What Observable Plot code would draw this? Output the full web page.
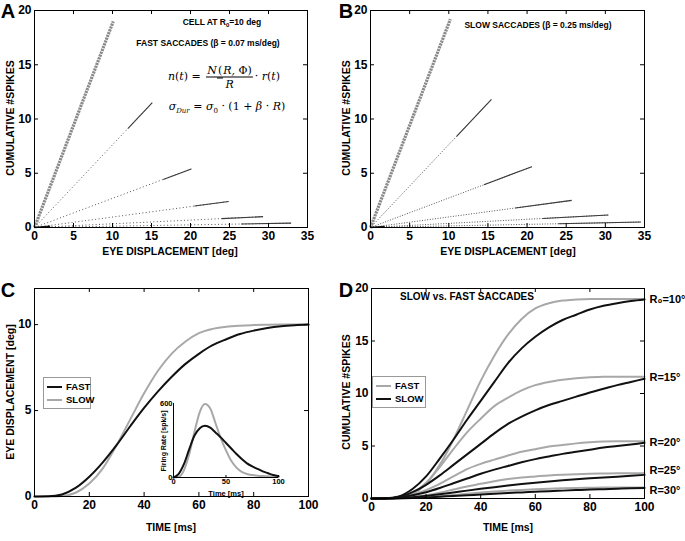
<!DOCTYPE html>
<html><head><meta charset="utf-8">
<script src="https://cdn.jsdelivr.net/npm/d3@7"></script>
<script src="https://cdn.jsdelivr.net/npm/@observablehq/plot@0.6"></script>
<style>
body{margin:0;background:#fff;}
#fig{position:relative;width:685px;height:541px;font-family:"Liberation Sans",Arial,sans-serif;font-weight:bold;color:#000;overflow:hidden;background:#fff}
#fig svg{position:absolute;overflow:visible}
.t{position:absolute;white-space:nowrap;line-height:1}
.ctr{transform:translate(-50%,-50%)}
.rot{transform:translate(-50%,-50%) rotate(-90deg)}
.letter{font-size:20px}
.axl{font-size:10.5px}
.note{font-size:8.5px}
.math{font-family:"DejaVu Serif","Liberation Serif",serif;font-weight:normal;font-style:italic;font-size:11px}
.frac{display:inline-flex;flex-direction:column;align-items:center;vertical-align:middle;margin:0 2px}
.frac span:first-child{border-bottom:1px solid #000;padding:0 1px 1px}
.frac span:last-child{padding-top:1px}
.up{font-style:normal}
.leg{position:absolute;border:1px solid #999;background:#fff;font-size:9.5px}
.leg div{position:absolute;white-space:nowrap;line-height:1}
.leg i{position:absolute;height:0;border-top:2px solid}
</style></head><body><div id="fig"></div>
<script>
// ---------- DATA ----------
// Panels A/B: cumulative spikes vs eye displacement (ray end points)
const rayLabels = ["R0=10", "R=15", "R=20", "R=25", "R=30", "R=35"];
const aEndX = [10.1, 15.1, 20.1, 24.9, 29.3, 32.9];
const aEndY = [19.0, 11.5, 5.4, 2.4, 1.0, 0.4];
const aSolidX = [0, 12.0, 16.5, 20.5, 24.0, 26.5];
const aStub = [2.0, 0.12];
const bEndX = [10.2, 15.45, 20.6, 25.7, 30.4, 34.55];
const bEndY = [19.2, 11.8, 5.6, 2.5, 1.15, 0.5];
const bSolidX = [0, 11.0, 14.5, 18.5, 22.0, 24.0];
const bStub = [1.8, 0.1];

// time base (ms)
const time = [0,5,10,15,20,25,30,35,40,45,50,55,60,65,70,75,80,85,90,95,100];

// Panel C: eye displacement [deg]
const cFast = [0,0.01,0.12,0.5,1.15,2.0,3.0,4.1,5.15,6.1,6.95,7.7,8.3,8.8,9.15,9.45,9.65,9.8,9.9,9.96,10];
const cSlow = [0,0,0.03,0.22,0.75,1.65,3.0,4.5,6.0,7.3,8.3,9.0,9.5,9.75,9.88,9.94,9.97,9.99,10,10,10];
// inset: firing rate [spk/s]
const rateFast = [0,30,110,230,340,400,420,405,365,325,280,235,190,150,115,90,70,50,35,20,10];
const rateSlow = [0,5,60,190,370,530,595,560,440,320,220,135,80,45,28,20,15,12,10,7,5];

// Panel D: cumulative #spikes vs time (FAST = gray, SLOW = black)
const dLabels = ["R\u2080=10\u00b0", "R=15\u00b0", "R=20\u00b0", "R=25\u00b0", "R=30\u00b0"];
const dLabelY = [19.0, 11.5, 5.3, 2.7, 0.8];
const dFast10 = [0,0,0.05,0.4,1.4,3.2,5.6,8.4,11.2,13.6,15.6,17.1,18.1,18.6,18.85,18.95,19.0,19.0,19.0,19.0,19.0];
const dSlow10 = [0,0.02,0.2,0.9,2.1,3.8,5.6,7.5,9.3,11.1,12.9,14.3,15.4,16.3,17.0,17.5,18.0,18.35,18.6,18.8,18.95];
const dFast15 = [0,0,0.1,0.5,1.5,3.0,4.7,6.3,7.6,8.8,9.6,10.3,10.8,11.1,11.3,11.45,11.55,11.6,11.6,11.6,11.6];
const dSlow15 = [0,0.02,0.15,0.6,1.3,2.2,3.2,4.2,5.2,6.2,7.1,7.8,8.4,8.9,9.3,9.7,10.1,10.45,10.8,11.1,11.4];
const dFast20 = [0,0,0.05,0.3,0.8,1.4,2.1,2.8,3.3,3.7,4.1,4.45,4.7,4.95,5.1,5.25,5.35,5.42,5.45,5.45,5.45];
const dSlow20 = [0,0.01,0.08,0.3,0.6,1.0,1.45,1.9,2.35,2.75,3.1,3.45,3.75,4.0,4.25,4.45,4.65,4.85,5.0,5.15,5.3];
const dFast25 = [0,0,0.03,0.12,0.3,0.55,0.85,1.15,1.4,1.65,1.85,2.0,2.1,2.2,2.27,2.32,2.36,2.38,2.4,2.4,2.4];
const dSlow25 = [0,0.01,0.04,0.12,0.25,0.4,0.57,0.75,0.92,1.08,1.23,1.37,1.5,1.62,1.73,1.83,1.92,2.0,2.08,2.17,2.25];
const dFast30 = [0,0,0.01,0.05,0.12,0.22,0.33,0.45,0.56,0.66,0.75,0.82,0.88,0.93,0.97,1.0,1.02,1.04,1.05,1.05,1.05];
const dSlow30 = [0,0,0.02,0.05,0.1,0.17,0.24,0.31,0.38,0.45,0.52,0.58,0.64,0.7,0.75,0.8,0.85,0.89,0.93,0.97,1.0];

const ticksA = [0,5,10,15,20,25,30,35];
const ticksSpk = [0,5,10,15,20];
const ticksT = [0,20,40,60,80,100];
const ticksDeg = [0,5,10];

// ---------- HELPERS ----------
const fig = document.getElementById("fig");
const FONT = "Liberation Sans, Arial, sans-serif";
function place(el, left, top){ el.style.left = left+"px"; el.style.top = top+"px"; fig.appendChild(el); return el; }
function text(str, x, y, cls, extra){ const d=document.createElement("div"); d.className="t "+cls; d.innerHTML=str; if(extra) Object.assign(d.style, extra); return place(d, x, y); }

function panel({left, top, w, h, m, xDom, yDom, xT, yT, marks, fs=12, tick=4}){
  const [mt, mr, mb, ml] = m;
  const fw = w-ml-mr, fh = h-mt-mb;
  const p = Plot.plot({
    width: w, height: h, marginTop: mt, marginRight: mr, marginBottom: mb, marginLeft: ml,
    x: {domain: xDom}, y: {domain: yDom},
    style: {fontFamily: FONT, fontSize: fs+"px", fontWeight: "bold", color: "#000", background: "transparent", overflow: "visible"},
    marks: [
      ...marks,
      Plot.frame({stroke: "#000", strokeWidth: 1}),
      Plot.ruleX(xT, {x: d=>d, insetTop: fh-tick, stroke: "#000"}),
      Plot.ruleX(xT, {x: d=>d, insetBottom: fh-tick, stroke: "#000"}),
      Plot.ruleY(yT, {y: d=>d, insetRight: fw-tick, stroke: "#000"}),
      Plot.ruleY(yT, {y: d=>d, insetLeft: fw-tick, stroke: "#000"}),
      Plot.axisX(xT, {tickSize: 0, tickPadding: 4, label: null}),
      Plot.axisY(yT, {tickSize: 0, tickPadding: 3, label: null})
    ]
  });
  return place(p, left, top);
}

function rays(endX, endY, solidX){
  return endX.map((x, i) => ({x1: 0, y1: 0, x2: x, y2: endY[i], sx: solidX[i], sy: endY[i]*solidX[i]/x, main: i === 0}));
}
function rayMarks(r, stub, dash){
  return [
    Plot.link(r.filter(d=>!d.main), {x1:"x1", y1:"y1", x2:"x2", y2:"y2", stroke:"#555", strokeWidth:1, strokeDasharray:dash}),
    Plot.link(r.filter(d=>!d.main), {x1:"sx", y1:"sy", x2:"x2", y2:"y2", stroke:"#3a3a3a", strokeWidth:1.1}),
    Plot.link(r.filter(d=>d.main), {x1:"x1", y1:"y1", x2:"x2", y2:"y2", stroke:"#8a8a8a", strokeWidth:3.2, strokeDasharray:"2.2,0.8"}),
    Plot.link([stub], {x1:()=>0, y1:()=>0, x2:d=>d[0], y2:d=>d[1], stroke:"#111", strokeWidth:1.5})
  ];
}
function series(arrs){
  const rows = [];
  arrs.forEach((a, k) => a.forEach((v, i) => rows.push({t: time[i], v, s: k})));
  return rows;
}

// ---------- PANEL A ----------
panel({left:0, top:0, w:340, h:260, m:[10,33,33,34], xDom:[0,35], yDom:[0,20], xT:ticksA, yT:ticksSpk,
  marks: rayMarks(rays(aEndX, aEndY, aSolidX), aStub, "1,2.4")});
// ---------- PANEL B ----------
panel({left:340, top:0, w:345, h:260, m:[10,41,33,30], xDom:[0,35], yDom:[0,20], xT:ticksA, yT:ticksSpk,
  marks: rayMarks(rays(bEndX, bEndY, bSolidX), bStub, "1,1.6")});

// ---------- PANEL C ----------
panel({left:0, top:270, w:340, h:271, m:[18,32,45,34], xDom:[0,100], yDom:[0,12.1], xT:ticksT, yT:ticksDeg,
  marks: [
    Plot.line(series([cSlow]), {x:"t", y:"v", z:"s", stroke:"#a8a8a8", strokeWidth:2, curve:"monotone-x"}),
    Plot.line(series([cFast]), {x:"t", y:"v", z:"s", stroke:"#111", strokeWidth:2, curve:"monotone-x"})
  ]});

// inset
(function(){
  const w=145, h=105, mt=10, mr=12, mb=21, ml=28;
  const fw=w-ml-mr, fh=h-mt-mb;
  const p = Plot.plot({
    width:w, height:h, marginTop:mt, marginRight:mr, marginBottom:mb, marginLeft:ml,
    x:{domain:[0,100]}, y:{domain:[0,600]},
    style:{fontFamily:FONT, fontSize:"7.5px", fontWeight:"bold", background:"transparent", overflow:"visible"},
    marks:[
      Plot.line(series([rateSlow]), {x:"t", y:"v", z:"s", stroke:"#a8a8a8", strokeWidth:2, curve:"monotone-x"}),
      Plot.line(series([rateFast]), {x:"t", y:"v", z:"s", stroke:"#111", strokeWidth:2, curve:"monotone-x"}),
      Plot.ruleX([0], {x:d=>d, stroke:"#000"}),
      Plot.ruleY([0], {y:d=>d, stroke:"#000"}),
      Plot.ruleX([50,100], {x:d=>d, insetTop:fh-2, stroke:"#000"}),
      Plot.axisX([0,50,100], {tickSize:0, tickPadding:1, label:null}),
      Plot.axisY([0,600], {tickSize:0, tickPadding:1, label:null})
    ]
  });
  place(p, 145, 393);
})();

// ---------- PANEL D ----------
panel({left:340, top:270, w:345, h:271, m:[18,41,43,31], xDom:[0,100], yDom:[0,20], xT:ticksT, yT:ticksSpk,
  marks: [
    Plot.line(series([dFast10,dFast15,dFast20,dFast25,dFast30]), {x:"t", y:"v", z:"s", stroke:"#a8a8a8", strokeWidth:2, curve:"monotone-x"}),
    Plot.line(series([dSlow10,dSlow15,dSlow20,dSlow25,dSlow30]), {x:"t", y:"v", z:"s", stroke:"#111", strokeWidth:2, curve:"monotone-x"}),
    Plot.text(dLabels, {x:()=>100, y:(d,i)=>dLabelY[i], text:d=>d, dx:5, textAnchor:"start", fontSize:11})
  ]});

// ---------- TEXT ----------
text("A", 8, 11, "letter ctr");
text("B", 346, 11, "letter ctr");
text("C", 8, 290, "letter ctr");
text("D", 346, 290, "letter ctr");

text("CUMULATIVE #SPIKES", 10, 118, "axl rot");
text("CUMULATIVE #SPIKES", 346, 118, "axl rot");
text("EYE DISPLACEMENT [deg]", 10, 392, "axl rot");
text("CUMULATIVE #SPIKES", 346, 392, "axl rot");
text("EYE DISPLACEMENT [deg]", 170, 251, "axl ctr");
text("EYE DISPLACEMENT [deg]", 508, 251, "axl ctr");
text("TIME [ms]", 171, 527, "axl ctr");
text("TIME [ms]", 508, 527, "axl ctr");

text("CELL AT R<sub style='font-size:6px'>0</sub>=10 deg", 222, 23, "note ctr");
text("FAST SACCADES (\u03b2 = 0.07 ms/deg)", 208, 43, "note ctr");
text("SLOW SACCADES (\u03b2 = 0.25 ms/deg)", 538, 25, "note ctr");
text("SLOW vs. FAST SACCADES", 467, 297, "ctr", {fontSize:"10px"});

text("<span>n</span><span class='up'>(</span>t<span class='up'>)</span> <span class='up'>=</span> <span class='frac'><span>N<span class='up'>(</span>R, <span class='up'>\u03a6)</span></span><span>R</span></span><span class='up'>\u00b7</span> r<span class='up'>(</span>t<span class='up'>)</span>", 224, 77, "math ctr");
text("\u03c3<sub style='font-size:7px'>Dur</sub> <span class='up'>=</span> \u03c3<sub style='font-size:7px' class='up'>0</sub> <span class='up'>\u00b7 (1 +</span> \u03b2 <span class='up'>\u00b7</span> R<span class='up'>)</span>", 227, 108, "math ctr");

text("Time [ms]", 226, 494, "ctr", {fontSize:"7.5px"});
text("Firing Rate [spk/s]", 163, 441, "rot", {fontSize:"7px"});

// legends
function legend(x, y, w, h, items){
  const d = document.createElement("div"); d.className="leg";
  Object.assign(d.style, {width:w+"px", height:h+"px"});
  items.forEach(([lab, col], k) => {
    const ln = document.createElement("i"); Object.assign(ln.style, {left:"3px", width:"15px", top:(8+k*13)+"px", borderColor:col}); d.appendChild(ln);
    const tx = document.createElement("div"); tx.textContent = lab; Object.assign(tx.style, {left:"22px", top:(4+k*13)+"px"}); d.appendChild(tx);
  });
  place(d, x, y);
}
legend(43, 377, 46, 30, [["FAST","#111"],["SLOW","#a8a8a8"]]);
legend(372, 376, 52, 30, [["FAST","#a8a8a8"],["SLOW","#111"]]);
</script></body></html>
